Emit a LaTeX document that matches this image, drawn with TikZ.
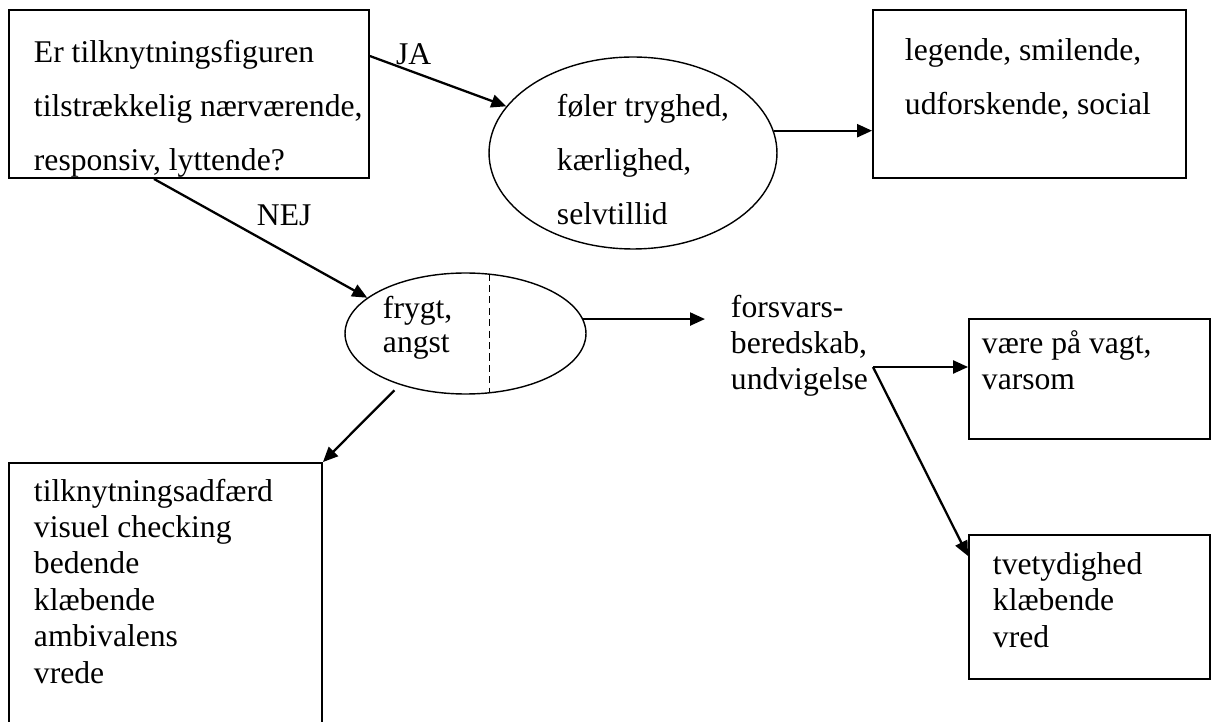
\documentclass[tikz,border=0pt]{standalone}
\usepackage{fontspec}
\setmainfont{Liberation Serif}
\usetikzlibrary{arrows.meta,shapes.geometric}

\begin{document}
\begin{tikzpicture}[x=0.02cm,y=-0.02cm,line width=1.1pt]
  \tikzset{>={Triangle[length=0.3cm,width=0.26cm]}}
  \tikzset{
    box/.style={draw, rectangle, inner sep=0pt},
    oval/.style={draw, ellipse, inner sep=0pt, line width=0.8pt},
    arr/.style={->, line width=1.3pt},
    txt/.style={inner sep=0pt, anchor=base west, align=left, font=\fontsize{18}{30.9}\selectfont},
    txt-tight/.style={txt, font=\fontsize{18}{20.7}\selectfont},
    lbl/.style={font=\fontsize{18}{20.7}\selectfont}
  }
  \useasboundingbox (0,0) rectangle (1217,722);
  \clip (0,0) rectangle (1217,722);
    % Top Row Shapes
    \node[box, minimum width=7.2cm, minimum height=3.36cm] (question) at (189,94) {};
    \node[oval, minimum width=5.76cm, minimum height=3.84cm] (secure) at (633,153) {};
    \node[box, minimum width=6.26cm, minimum height=3.36cm] (secure-box) at (1029.5,94) {};
    % Lower Shapes
    \node[oval, minimum width=4.82cm, minimum height=2.42cm] (fear) at (465.5,333.5) {};
    \node[box, minimum width=4.82cm, minimum height=2.4cm] (alert) at (1089.5,379) {};
    \node[box, minimum width=4.82cm, minimum height=2.88cm] (ambivalence) at (1089.5,607) {};
    \node[box, minimum width=6.26cm, minimum height=5.94cm] (attachment) at (165.5,611.5) {};
    \draw[dashed, line width=0.8pt, dash pattern=on 4pt off 2.5pt] (fear.68) -- (fear.-68);
    % Texts (anchored at the last baseline)
    \node[txt] (question-text) at (33,171) {Er tilknytningsfiguren\\tilstrækkelig nærværende,\\responsiv, lyttende?};
    \node[txt] (secure-text) at (556,225) {føler tryghed,\\kærlighed,\\selvtillid};
    \node[txt] (secure-box-text) at (904,115) {legende, smilende,\\udforskende, social};
    \node[txt, font=\fontsize{18}{19.8}\selectfont] (fear-text) at (382,353) {frygt,\\angst};
    \node[txt-tight] (defence) at (730,390) {forsvars-\\beredskab,\\undvigelse};
    \node[txt-tight] (alert-text) at (981,390) {være på vagt,\\varsom};
    \node[txt-tight] (ambivalence-text) at (992,647) {tvetydighed\\klæbende\\vred};
    \node[txt-tight] (attachment-text) at (33,683) {tilknytningsadfærd\\visuel checking\\bedende\\klæbende\\ambivalens\\vrede};
    \coordinate (fork) at (873,367);
    % Arrows
    \draw[arr] (question.north east) ++(0,47) -- (secure) node[pos=0.32, above, lbl] {JA};
    \draw[arr] (question.south) ++(-35,0) -- (fear.160) node[pos=0.45, above right, lbl] {NEJ};
    \draw[arr] (secure.9) -- (secure.9 -| secure-box.west);
    \draw[arr, shorten >=0.5cm] (fear.7) -- (fear.7 -| defence.west);
    \draw[arr] (fork) -- (fork -| alert.west);
    \draw[arr] (fork) -- ([yshift=-0.44cm]ambivalence.north west);
    \draw[arr, shorten <=0.15cm] (fear.218) -- (attachment.north east);
\end{tikzpicture}
\end{document}
